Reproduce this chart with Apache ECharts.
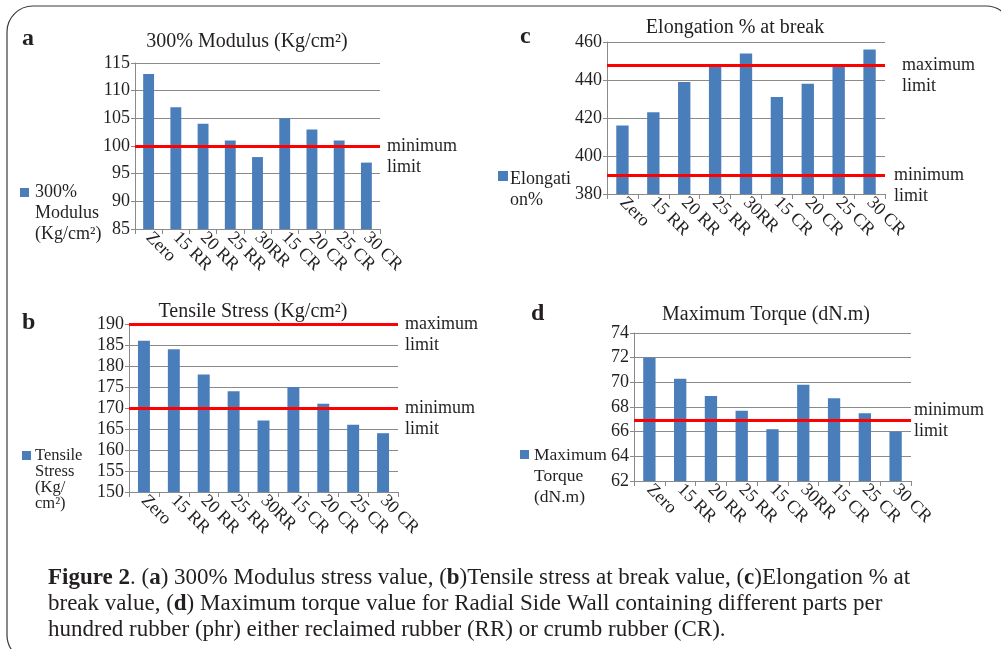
<!DOCTYPE html>
<html>
<head>
<meta charset="utf-8">
<script src="https://cdn.jsdelivr.net/npm/echarts@6/dist/echarts.min.js"></script>
<style>
html,body{margin:0;padding:0;background:#fff;}
#chart{width:1001px;height:649px;}
</style>
</head>
<body>
<div id="chart"></div>
<script>
// ---- data ----
const categoriesABC = ["Zero","15 RR","20 RR","25 RR","30RR","15 CR","20 CR","25 CR","30 CR"];
const categoriesD = ["Zero","15 RR","20 RR","25 RR","15 CR","30RR","15 CR","25 CR","30 CR"];

const modulusValues = [113,107,104,101,98,105,103,101,97];
const modulusMin = 100;

const tensileValues = [186,184,178,174,167,175,171,166,164];
const tensileMax = 190;
const tensileMin = 170;

const elongationValues = [416,423,439,447,454,431,438,448,456];
const elongationMax = 448;
const elongationMin = 390;

const torqueValues = [72.0,70.3,68.9,67.7,66.2,69.8,68.7,67.5,66.0];
const torqueMin = 66.9;

const titles = ["300% Modulus (Kg/cm²)","Tensile Stress (Kg/cm²)","Elongation % at break","Maximum Torque (dN.m)"];
const seriesNames = ["300% Modulus (Kg/cm²)","Tensile Stress (Kg/cm²)","Elongation%","Maximum Torque (dN.m)"];

// ---- styling ----
const FONT = "Liberation Serif";
const BLUE = "#4a7ebb";
const GRAY = "#8a8a8a";
const TXT = "#231f20";

const grids = [
  {left:135, top:63, width:245, height:166},
  {left:129, top:324, width:269, height:168},
  {left:607, top:42, width:278, height:152},
  {left:634, top:333, width:277, height:148}
];
const yRanges = [
  {min:85,max:115,interval:5},
  {min:150,max:190,interval:5},
  {min:380,max:460,interval:20},
  {min:62,max:74,interval:2}
];
const cats = [categoriesABC, categoriesABC, categoriesABC, categoriesD];
const vals = [modulusValues, tensileValues, elongationValues, torqueValues];

function limitLine(v, word, firstLineOnLine, dist){
  return {
    yAxis: v,
    label: {
      show:true, position:'end',
      formatter: firstLineOnLine ? (' \n' + word + '\nlimit') : (word + '\nlimit'),
      color:TXT, fontFamily:FONT, fontSize:18, lineHeight:21,
      distance:dist
    }
  };
}
const markLines = [
  [limitLine(modulusMin,'minimum',true,7)],
  [limitLine(tensileMax,'maximum',true,7), limitLine(tensileMin,'minimum',true,7)],
  [limitLine(elongationMax,'maximum',true,17), limitLine(elongationMin,'minimum',true,9)],
  [limitLine(torqueMin,'minimum',false,3)]
];

const titlePos = [[247,32],[253,302],[735,18],[766,305]];

const option = {
  animation:false,
  backgroundColor:'#fff',
  title: titles.map((t,i)=>({
    text:t, left:titlePos[i][0], top:titlePos[i][1], textAlign:'center', padding:0,
    textStyle:{fontFamily:FONT, fontSize:20, fontWeight:'normal', color:TXT}
  })),
  grid: grids.map(g=>Object.assign({containLabel:false}, g)),
  xAxis: cats.map((c,i)=>({
    type:'category', gridIndex:i, data:c,
    axisLine:{show:true, lineStyle:{color:GRAY, width:1}},
    axisTick:{show:true, length:5, lineStyle:{color:GRAY}},
    axisLabel:{interval:0, rotate:-45, margin:6, fontFamily:FONT, fontSize:18, color:TXT},
    splitLine:{show:false}
  })),
  yAxis: yRanges.map((r,i)=>({
    type:'value', gridIndex:i, min:r.min, max:r.max, interval:r.interval,
    axisLine:{show:true, lineStyle:{color:GRAY, width:1}},
    axisTick:{show:true, length:4, lineStyle:{color:GRAY}},
    axisLabel:{margin:5, fontFamily:FONT, fontSize:18, color:TXT},
    splitLine:{show:true, lineStyle:{color:GRAY, width:1}}
  })),
  series: vals.map((v,i)=>({
    type:'bar', name:seriesNames[i], xAxisIndex:i, yAxisIndex:i, data:v,
    barWidth:'40%', itemStyle:{color:BLUE},
    markLine:{
      silent:true, symbol:['none','none'],
      lineStyle:{color:'#ff0000', width:3, type:'solid'},
      data: markLines[i]
    }
  })),
  graphic: [
    {type:'rect', shape:{x:7, y:6, width:1005, height:655, r:26}, style:{fill:'none', stroke:'#3a3a3a', lineWidth:1.2}, z:-1},
    // panel letters
    {type:'text', left:22, top:27, style:{text:'a', font:'bold 24px "Liberation Serif"', fill:TXT}},
    {type:'text', left:22, top:311, style:{text:'b', font:'bold 24px "Liberation Serif"', fill:TXT}},
    {type:'text', left:520, top:25, style:{text:'c', font:'bold 24px "Liberation Serif"', fill:TXT}},
    {type:'text', left:531, top:302, style:{text:'d', font:'bold 24px "Liberation Serif"', fill:TXT}},
    // legends
    {type:'rect', shape:{x:20, y:188, width:9, height:9}, style:{fill:BLUE}},
    {type:'text', x:35, y:182, style:{text:'300%\nModulus\n(Kg/cm²)', font:'18px "Liberation Serif"', lineHeight:21, fill:TXT}},
    {type:'rect', shape:{x:22, y:451, width:9, height:9}, style:{fill:BLUE}},
    {type:'text', x:35, y:448, style:{text:'Tensile\nStress\n(Kg/\ncm²)', font:'16.5px "Liberation Serif"', lineHeight:16, fill:TXT}},
    {type:'rect', shape:{x:498, y:171, width:10, height:10}, style:{fill:BLUE}},
    {type:'text', x:510, y:169, style:{text:'Elongati\non%', font:'18px "Liberation Serif"', lineHeight:21, fill:TXT}},
    {type:'rect', shape:{x:520, y:450, width:9, height:9}, style:{fill:BLUE}},
    {type:'text', x:534, y:445, style:{text:'Maximum\nTorque\n(dN.m)', font:'17.5px "Liberation Serif"', lineHeight:21, fill:TXT}},
    // caption
    {type:'text', x:48, y:565, style:{
      text:'{b|Figure 2}. ({b|a}) 300% Modulus stress value, ({b|b})Tensile stress at break value, ({b|c})Elongation % at\nbreak value, ({b|d}) Maximum torque value for Radial Side Wall containing different parts per\nhundred rubber (phr) either reclaimed rubber (RR) or crumb rubber (CR).',
      font:'23px "Liberation Serif"', lineHeight:26, fill:TXT,
      rich:{b:{fontWeight:'bold', fontFamily:FONT, fontSize:23, fill:TXT}}
    }}
  ]
};

const chart = echarts.init(document.getElementById('chart'), null, {renderer:'canvas'});
chart.setOption(option);
</script>
</body>
</html>
